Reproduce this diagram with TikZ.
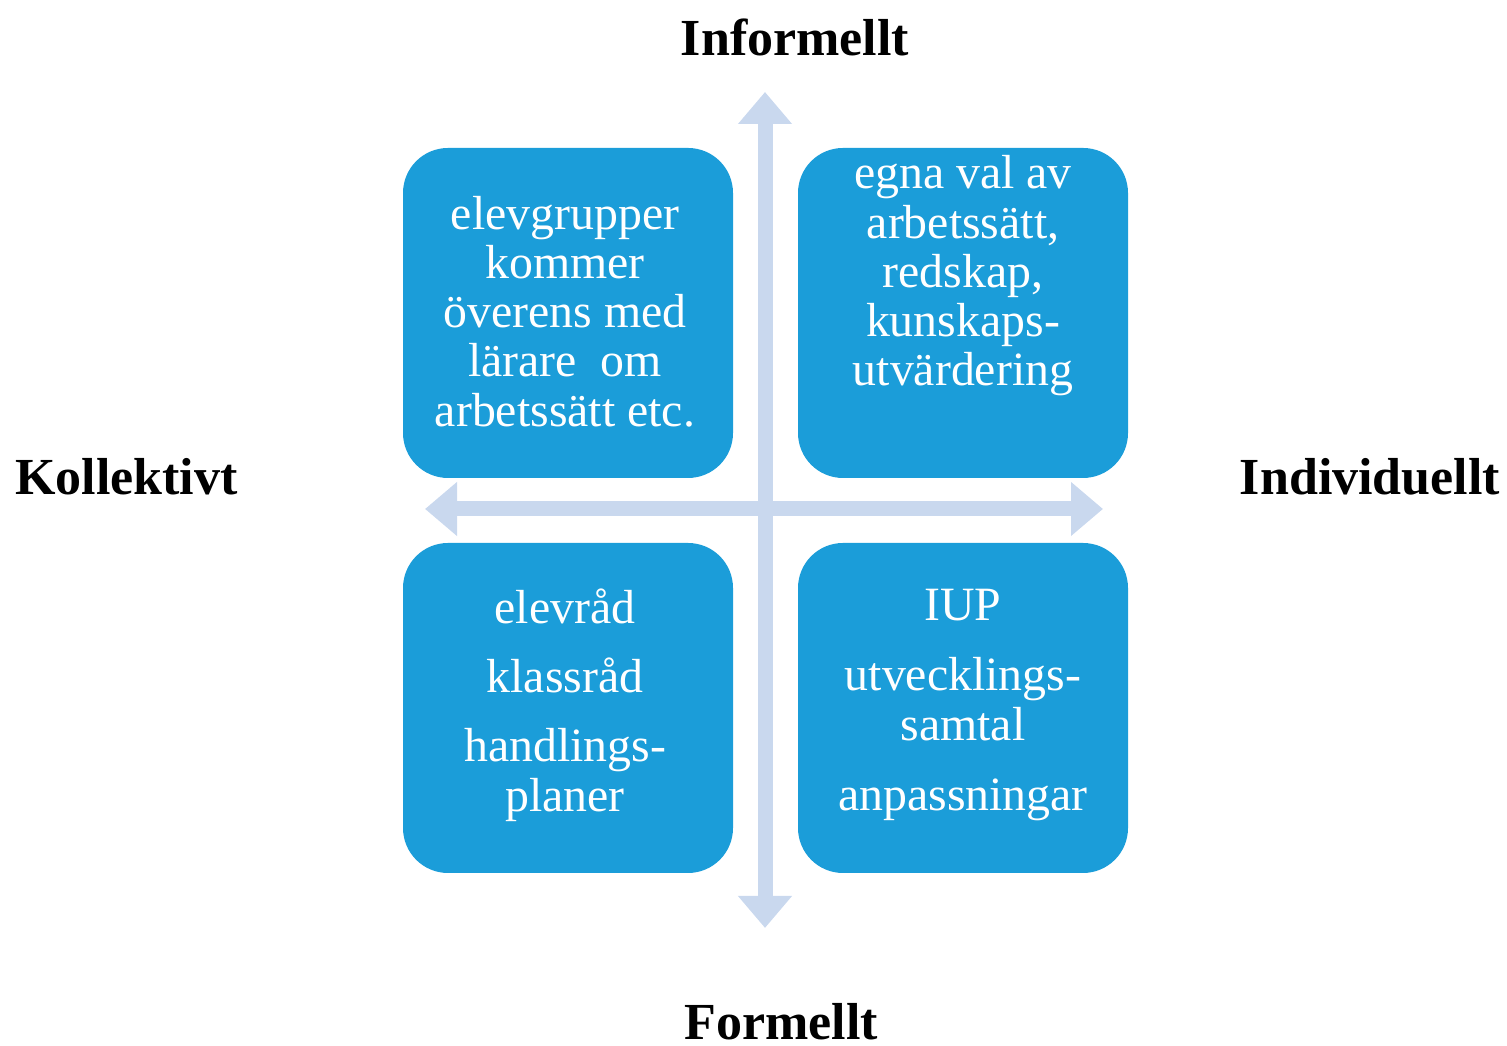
\documentclass[tikz,border=0pt]{standalone}
\usepackage{fontspec}
\setmainfont{Liberation Serif}
\usetikzlibrary{arrows.meta}

\definecolor{quadblue}{RGB}{27,157,217}
\definecolor{axisblue}{RGB}{201,216,238}

\tikzset{
	quad/.style={fill=quadblue, rounded corners=0.45cm, minimum width=3.3cm, minimum height=3.3cm, inner sep=0pt},
	quadtext/.style={text=white, align=center, inner sep=0pt, font=\fontsize{13.6}{14}\selectfont},
	axislabel/.style={inner sep=0pt, font=\fontsize{14.8}{16}\selectfont\bfseries},
	axisline/.style={draw=axisblue, line width=0.15cm, {Triangle[width=0.52cm,length=0.32cm]}-{Triangle[width=0.52cm,length=0.32cm]}}
}

\begin{document}
\begin{tikzpicture}
			\useasboundingbox (0,0) rectangle (15.07,10.46);
			% axes
			\coordinate (informal) at (7.65,9.54);
			\coordinate (formal) at (7.65,1.18);
			\coordinate (collective) at (4.25,5.37);
			\coordinate (individual) at (11.03,5.37);
			\draw[axisline] (informal) -- (formal);
			\draw[axisline] (collective) -- (individual);
			% quadrants
			\node[quad] (tl) at (5.68,7.33) {};
			\node[quad] (tr) at (9.63,7.33) {};
			\node[quad] (bl) at (5.68,3.38) {};
			\node[quad] (br) at (9.63,3.38) {};
			\node[quadtext] (tltext) at ([xshift=-0.03cm, yshift=0.015cm]tl.center)
				{elevgrupper\\kommer\\överens med\\lärare\ \ om\\arbetssätt etc.};
			\node[quadtext] (trtext) at ([yshift=0.37cm]tr.center)
				{egna val av\\arbetssätt,\\redskap,\\kunskaps-\\utvärdering};
			\node[quadtext] (bltext) at ([xshift=-0.03cm, yshift=0.03cm]bl.center)
				{elevråd\\[5.7pt]klassråd\\[5.7pt]handlings-\\planer};
			\node[quadtext] (brtext) at ([yshift=0.03cm]br.center)
				{IUP\\[6pt]utvecklings-\\samtal\\[6pt]anpassningar};
			% labels
			\node[axislabel] (informell) at (7.95,10.09) {Informellt};
			\node[axislabel] (formell) at (7.81,0.24) {Formellt};
			\node[axislabel] (kollektiv) at (1.265,5.69) {Kollektivt};
			\node[axislabel] (individuell) at (13.70,5.69) {Individuellt};
		\end{tikzpicture}
\end{document}
